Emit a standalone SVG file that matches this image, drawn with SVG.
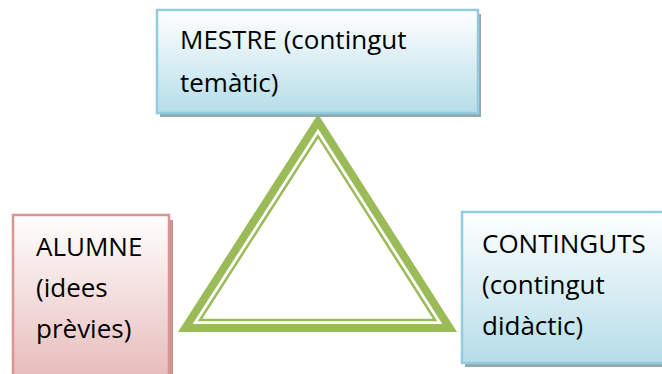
<svg xmlns="http://www.w3.org/2000/svg" width="662" height="374" viewBox="0 0 662 374">
  <style>
    .label { font-family: "Open Sans", "Noto Sans", "Liberation Sans", sans-serif; font-size: 26px; fill: #000000; }
    .blue { fill: url(#blueFill); stroke: #93CDDD; stroke-width: 2.5; }
    .pink { fill: url(#pinkFill); stroke: #D99594; stroke-width: 2.5; }
    .shadowBlue { fill: #8AA5AB; opacity: 0.95; }
    .shadowPink { fill: #CF9091; }
  </style>
  <defs>
    <linearGradient id="blueFill" x1="0" y1="0" x2="0" y2="1">
      <stop offset="0" stop-color="#FFFFFF"/>
      <stop offset="1" stop-color="#B6DDE8"/>
    </linearGradient>
    <linearGradient id="pinkFill" x1="0" y1="0" x2="0" y2="1">
      <stop offset="0" stop-color="#FFFFFF"/>
      <stop offset="1" stop-color="#E6B9B8"/>
    </linearGradient>
  </defs>

  <rect width="662" height="374" fill="#FFFFFF"/>

  <!-- triangle linking the three nodes -->
  <g id="connectors">
    <polygon points="318,114 178,332 457,332" fill="#9BBB59"/>
    <polygon points="318,128.8 192.6,324 442.4,324" fill="#FFFFFF"/>
    <polygon points="318,136.2 200,320 435.1,320" fill="none" stroke="#9BBB59" stroke-width="2.5"/>
  </g>

  <g id="mestre">
    <rect class="shadowBlue" x="160" y="14" width="321" height="103"/>
    <rect class="blue" x="157" y="10" width="321" height="103"/>
    <text class="label" x="180" y="49">MESTRE (contingut</text>
    <text class="label" x="180" y="92">temàtic)</text>
  </g>

  <g id="alumne">
    <rect class="shadowPink" x="16" y="220" width="157" height="170"/>
    <rect class="pink" x="13" y="215" width="156" height="170"/>
    <text class="label" x="36" y="256">ALUMNE</text>
    <text class="label" x="36" y="297">(idees</text>
    <text class="label" x="36" y="338">prèvies)</text>
  </g>

  <g id="continguts">
    <rect class="shadowBlue" x="465" y="216" width="210" height="151"/>
    <rect class="blue" x="462" y="212" width="210" height="151"/>
    <text class="label" x="482" y="253">CONTINGUTS</text>
    <text class="label" x="482" y="294">(contingut</text>
    <text class="label" x="482" y="335">didàctic)</text>
  </g>
</svg>
